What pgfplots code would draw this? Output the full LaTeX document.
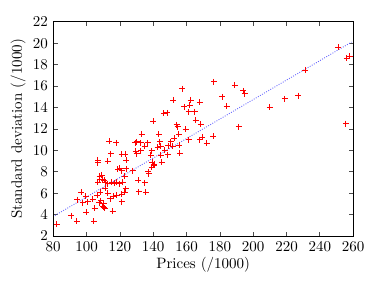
\documentclass[border=0pt]{standalone}
\usepackage{pgfplots}
\pgfplotsset{compat=1.18}
\begin{document}
\begin{tikzpicture}
\begin{axis}[name=ax,
  scale only axis, width=200pt, height=142.9pt,
  xmin=80, xmax=260, ymin=2, ymax=22,
  xtick={80,100,...,260}, ytick={2,4,...,22},
  tick align=inside, major tick length=2.9pt,
  axis line style={line width=0.6pt},
  every tick/.style={line width=0.5pt, black!70},
  xlabel={Prices (/1000)}, ylabel={Standard deviation (/1000)},
  xlabel style={yshift=3pt}, ylabel style={yshift=-2pt},
]
\addplot[only marks, mark=+, red, mark size=2pt, mark options={line width=0.6pt}] coordinates {
(82.2,3.1) (90.8,3.9) (94.2,3.4) (99.8,4.2) (104.4,3.4) (94.4,5.4) (96.8,6.1) (99.4,5.7) (97.8,5.1) (100.8,5.2) (103.8,5.45) (104.8,4.6)
(106.5,5.8) (107.6,5.1) (108.4,5.3) (110.2,5.05) (110.2,4.7) (111,4.6) (109.6,4.8) (115.6,4.3) (114.2,5.5) (111.2,6.45) (112.8,6.0)
(116.2,5.7) (118.2,5.83) (121.2,5.9) (121.2,5.2) (122.8,6.1) (123.6,6.4) (108.2,6.1)
(106.8,7.0) (107.8,7.6) (109.2,7.7) (108,7.25) (109.6,7.3) (110.6,7.2) (111.2,7.0) (112.8,6.9) (115,7.0) (116.5,6.95) (118,7.0) (121.6,7.0) (119.8,6.9)
(106.8,9.06) (106.8,8.85) (112.6,8.97) (114.6,9.7) (118.8,8.25) (120,8.35) (121,8.1) (123.8,8.3) (127.8,8.1) (121.2,9.65) (123.2,9.65) (123.8,9.06) (122.8,7.6)
(113.6,10.84) (117.8,10.7) (129.2,10.7)
(129.4,9.9) (130,9.7) (130,10.8) (132.6,10.7) (136.6,10.7) (133,11.5) (143.4,11.5) (144,10.8) (152.6,11.15) (150.6,10.8) (144.6,10.4) (149,10.45)
(135,10.37) (132.6,9.96) (139,9.96) (147,10.0) (148.6,9.6) (144.6,9.53) (138.6,9.53) (156,9.75) (145,8.9) (139.4,8.9) (140.2,8.6) (139,8.4) (137,8.0)
(137.4,7.8) (131,7.2) (135,6.97) (131.4,6.13) (135.6,6.08) (142.6,10.3) (151.6,10.4) (155.6,10.5) (140.6,8.7)
(140,12.7) (146.4,13.45) (148.3,13.5) (152,14.7) (154,12.4) (154.6,12.2) (155.4,11.5) (157.4,15.75) (158.6,14.05) (159.4,11.95) (161.4,13.6) (161.4,11.0)
(162.6,14.7) (162,14.2) (165,13.6) (165.4,12.8) (168.6,12.45) (168,14.5) (168,11.0) (169.4,11.2) (172,10.65) (176,11.3) (176.4,16.4) (181.4,15.0) (184,14.1)
(189,16.1) (194,15.55) (195,15.3) (191.4,12.2) (210,14.0) (219,14.8) (227,15.1) (231.2,17.5) (251,19.6) (256,18.6) (258,18.8) (255.6,12.5)
};
\addplot[blue!60, densely dotted, line width=0.6pt] coordinates {(81,3.92) (259,20.1)};
\end{axis}
\pgfresetboundingbox
\path (ax.south west) ++(-35.5pt,-29.3pt) rectangle ++(254.7pt,186.7pt);
\end{tikzpicture}
\end{document}
